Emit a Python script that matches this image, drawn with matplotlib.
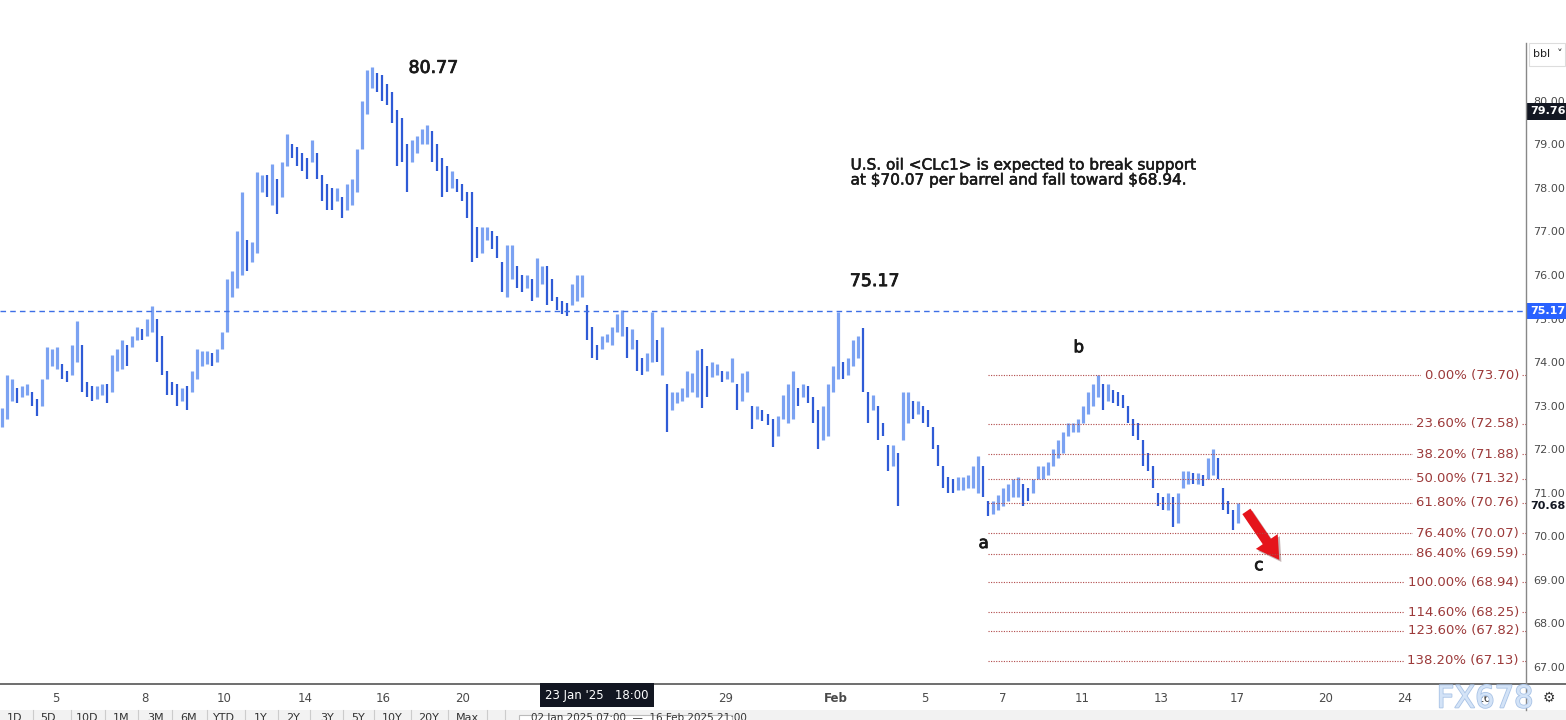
import matplotlib
matplotlib.use("Agg")
import matplotlib.pyplot as plt
import matplotlib.patheffects as pe
from matplotlib.patches import FancyArrowPatch, Rectangle
from matplotlib.lines import Line2D
import numpy as np

# ---------------- data ----------------
bar_low = [
    72.50, 72.70, 73.10, 73.05, 73.20, 73.25, 73.00, 72.75, 73.00, 73.60,
    73.90, 73.85, 73.60, 73.55, 73.70, 74.00, 73.30, 73.20, 73.10, 73.15,
    73.25, 73.05, 73.30, 73.80, 73.85, 73.90, 74.35, 74.50, 74.50, 74.60,
    74.70, 74.00, 73.70, 73.25, 73.25, 73.00, 73.10, 72.90, 73.30, 73.60,
    73.90, 73.95, 73.90, 74.00, 74.30, 74.70, 75.50, 75.70, 76.00, 76.10,
    76.30, 76.50, 77.90, 77.80, 77.60, 77.40, 77.80, 78.50, 78.70, 78.50,
    78.40, 78.20, 78.60, 78.20, 77.70, 77.50, 77.50, 77.70, 77.30, 77.50,
    77.60, 77.90, 78.90, 79.70, 80.30, 80.20, 80.00, 79.90, 79.50, 78.50,
    78.60, 77.90, 78.60, 78.80, 79.00, 79.00, 78.60, 78.40, 77.80, 77.90,
    78.00, 77.90, 77.70, 77.30, 76.30, 76.40, 76.50, 76.80, 76.60, 76.40,
    75.60, 75.50, 75.90, 75.70, 75.60, 75.70, 75.40, 75.50, 75.80, 75.30,
    75.40, 75.20, 75.10, 75.05, 75.30, 75.40, 75.50, 74.50, 74.10, 74.05,
    74.30, 74.45, 74.40, 74.70, 74.60, 74.10, 74.30, 73.80, 73.70, 73.80,
    74.00, 74.00, 73.70, 72.40, 72.90, 73.05, 73.10, 73.20, 73.30, 73.20,
    72.95, 73.20, 73.65, 73.70, 73.55, 73.60, 73.55, 72.90, 73.10, 73.30,
    72.45, 72.70, 72.65, 72.55, 72.05, 72.30, 72.70, 72.60, 72.70, 73.00,
    73.20, 73.05, 72.60, 72.00, 72.20, 72.30, 73.30, 73.60, 73.60, 73.70,
    73.90, 74.10, 73.30, 72.60, 72.90, 72.20, 72.30, 71.50, 71.60, 70.70,
    72.20, 72.60, 72.70, 72.80, 72.60, 72.50, 72.00, 71.60, 71.10, 71.00,
    71.00, 71.05, 71.05, 71.10, 71.10, 71.00, 70.90, 70.45, 70.50, 70.60,
    70.70, 70.80, 70.90, 70.90, 70.70, 70.80, 71.00, 71.30, 71.30, 71.40,
    71.60, 71.80, 71.90, 72.30, 72.40, 72.40, 72.60, 72.80, 73.00, 73.20,
    72.90, 73.10, 73.05, 73.00, 72.95, 72.60, 72.30, 72.20, 71.60, 71.50,
    71.10, 70.70, 70.60, 70.60, 70.20, 70.30, 71.10, 71.20, 71.20, 71.20,
    71.15, 71.30, 71.40, 71.30, 70.60, 70.50, 70.14, 70.30,
]
bar_high = [
    72.95, 73.70, 73.60, 73.40, 73.45, 73.50, 73.30, 73.15, 73.60, 74.35,
    74.30, 74.35, 73.95, 73.80, 74.40, 74.95, 74.40, 73.55, 73.45, 73.45,
    73.50, 73.50, 74.15, 74.30, 74.50, 74.40, 74.60, 74.80, 74.75, 75.00,
    75.28, 75.00, 74.60, 73.80, 73.55, 73.50, 73.40, 73.45, 73.80, 74.30,
    74.25, 74.25, 74.20, 74.30, 74.70, 75.90, 76.10, 77.00, 77.90, 76.80,
    76.75, 78.37, 78.30, 78.30, 78.55, 78.20, 78.60, 79.25, 79.00, 78.95,
    78.80, 78.70, 79.10, 78.80, 78.30, 78.10, 78.00, 78.00, 77.80, 78.10,
    78.20, 78.90, 80.00, 80.70, 80.77, 80.65, 80.60, 80.40, 80.20, 79.80,
    79.60, 79.00, 79.10, 79.20, 79.35, 79.45, 79.30, 79.00, 78.70, 78.50,
    78.40, 78.20, 78.10, 77.90, 77.90, 77.10, 77.10, 77.10, 77.00, 76.90,
    76.30, 76.70, 76.70, 76.20, 76.00, 76.00, 75.90, 76.40, 76.20, 76.20,
    75.90, 75.50, 75.40, 75.35, 75.80, 76.00, 76.00, 75.30, 74.80, 74.40,
    74.60, 74.65, 74.80, 75.10, 75.20, 74.80, 74.75, 74.50, 74.10, 74.20,
    75.15, 74.50, 74.80, 73.50, 73.30, 73.30, 73.40, 73.80, 73.75, 74.27,
    74.30, 73.90, 74.00, 73.95, 73.80, 73.80, 74.10, 73.50, 73.75, 73.80,
    73.00, 73.00, 72.90, 72.80, 72.70, 72.75, 73.25, 73.50, 73.80, 73.40,
    73.50, 73.45, 73.20, 72.90, 73.00, 73.50, 73.90, 75.15, 74.00, 74.10,
    74.50, 74.60, 74.78, 73.30, 73.25, 73.00, 72.60, 72.10, 72.10, 71.90,
    73.30, 73.30, 73.10, 73.10, 73.00, 72.90, 72.50, 72.10, 71.60, 71.35,
    71.30, 71.35, 71.35, 71.40, 71.60, 71.85, 71.60, 70.80, 70.80, 70.95,
    71.10, 71.20, 71.30, 71.35, 71.20, 71.10, 71.30, 71.60, 71.60, 71.70,
    72.00, 72.20, 72.40, 72.60, 72.60, 72.70, 73.00, 73.30, 73.50, 73.70,
    73.50, 73.50, 73.35, 73.30, 73.25, 73.00, 72.70, 72.60, 72.20, 71.90,
    71.60, 71.00, 70.90, 71.00, 70.90, 71.00, 71.50, 71.50, 71.45, 71.45,
    71.40, 71.80, 72.00, 71.80, 71.10, 70.80, 70.60, 70.76,
]
last_price = 70.68
line_level = 75.17
last_high_label = 79.76

fib_ratios = ["0.00%", "23.60%", "38.20%", "50.00%", "61.80%", "76.40%",
              "86.40%", "100.00%", "114.60%", "123.60%", "138.20%"]
fib_prices = [73.70, 72.58, 71.88, 71.32, 70.76, 70.07, 69.59, 68.94,
              68.25, 67.82, 67.13]

price_ticks = [67, 68, 69, 70, 71, 72, 73, 74, 75, 76, 77, 78, 79, 80]
date_labels = ["5", "8", "10", "14", "16", "20", "27", "29", "Feb", "5",
               "7", "11", "13", "17", "20", "24", "26"]
date_pos = [10.8, 28.6, 44.4, 60.6, 76.2, 92.0, 128.2, 144.6, 166.6, 184.4,
            200.0, 215.8, 231.6, 246.8, 264.6, 280.4, 296.2]

# ---------------- figure ----------------
W, H = 1566, 720
fig = plt.figure(figsize=(W / 100, H / 100), dpi=100)
fig.patch.set_facecolor("white")
ax = fig.add_axes([0, 36 / H, 1526 / W, 684 / H])
ax.set_facecolor("white")

lows = np.array(bar_low)
highs = np.array(bar_high)
n = len(lows)
x = np.arange(n)
mid = (lows + highs) / 2
up = np.r_[True, mid[1:] >= mid[:-1]]
col_up, col_dn = "#7ba2f2", "#2f5bd6"
ax.vlines(x[up], lows[up], highs[up], color=col_up, lw=2.3)
ax.vlines(x[~up], lows[~up], highs[~up], color=col_dn, lw=1.6)

ax.set_xlim(-0.4, 304.6)
ax.set_ylim(66.60, 82.32)

# horizontal dashed level
ax.axhline(line_level, color="#3d6fe6", lw=1.0, ls=(0, (4, 3)))

# fibonacci levels
fib_x0 = 197
for r, p in zip(fib_ratios, fib_prices):
    ax.hlines(p, fib_x0, 304.6, color="#b04848", lw=0.8, ls=(0, (1, 1.3)))
    ax.text(303.2, p, f"{r} ({p:.2f})", ha="right", va="center",
            fontsize=9.5, color="#9c3a3a",
            bbox=dict(boxstyle="square,pad=0.25", fc="white", ec="none"))

# annotations
heavy = [pe.withStroke(linewidth=0.6, foreground="#1a1a1a")]
ax.text(86.2, 80.76, "80.77", ha="center", va="center", fontsize=12.5, color="#1a1a1a", path_effects=heavy)
ax.text(174.4, 75.86, "75.17", ha="center", va="center", fontsize=12.5, color="#1a1a1a", path_effects=heavy)
ax.text(215.2, 74.34, "b", ha="center", va="center", fontsize=12, color="#1a1a1a", path_effects=heavy)
ax.text(196.2, 69.84, "a", ha="center", va="center", fontsize=12, color="#1a1a1a", path_effects=heavy)
ax.text(251.2, 69.33, "c", ha="center", va="center", fontsize=12, color="#1a1a1a", path_effects=heavy)
ax.text(169.6, 78.70,
        "U.S. oil <CLc1> is expected to break support\nat \\$70.07 per barrel and fall toward \\$68.94.",
        ha="left", va="top", fontsize=11, color="#1a1a1a", linespacing=1.0,
        path_effects=[pe.withStroke(linewidth=0.4, foreground="#1a1a1a")])

arrow = FancyArrowPatch((248.4, 70.62), (255.6, 69.40),
                        arrowstyle="simple,head_width=19,head_length=16,tail_width=7",
                        color="#e5141b", mutation_scale=1, lw=0,
                        path_effects=[pe.SimplePatchShadow(offset=(1.5, -1.5), alpha=0.3), pe.Normal()])
ax.add_patch(arrow)

# axes styling
for s in ax.spines.values():
    s.set_visible(False)
ax.yaxis.tick_right()
ax.set_yticks(price_ticks)
ax.set_yticklabels([f"{v:.2f}" for v in price_ticks])
ax.tick_params(axis="y", length=0, pad=5, labelsize=8, labelcolor="#4a4a4a")
ax.set_xticks(date_pos)
ax.set_xticklabels(date_labels)
ax.tick_params(axis="x", length=0, pad=6, labelsize=8.5, labelcolor="#4a4a4a")
for t in ax.get_xticklabels():
    if t.get_text() == "Feb":
        t.set_fontweight("bold")

# price boxes on the right scale
def price_box(price, text, fc, tc):
    ax.annotate(text, xy=(1.0, price), xycoords=("axes fraction", "data"),
                xytext=(3.2, 0), textcoords="offset points", ha="left", va="center",
                fontsize=8, color=tc, fontweight="bold", annotation_clip=False,
                bbox=dict(boxstyle="square,pad=0.3", fc=fc, ec="none"))

price_box(last_high_label, f"{last_high_label:.2f}", "#131722", "white")
price_box(line_level, f"{line_level:.2f}", "#2962ff", "white")
price_box(last_price, f"{last_price:.2f}", "white", "#131722")

# frame lines
fig.add_artist(Line2D([0, 1], [36 / H, 36 / H], color="#555555", lw=1.2, transform=fig.transFigure))
fig.add_artist(Line2D([1526 / W, 1526 / W], [10 / H, (H - 43) / H], color="#888888", lw=1.0, transform=fig.transFigure))

# bbl box
fig.patches.append(Rectangle((1529 / W, (H - 66) / H), 36 / W, 23 / H, transform=fig.transFigure,
                             fc="white", ec="#dddddd", lw=0.8))
fig.text(1533 / W, (H - 54) / H, "bbl  ˅", fontsize=8, color="#222222", va="center", ha="left")

# crosshair date label
fig.text(597 / W, (H - 695) / H, "23 Jan '25   18:00", ha="center", va="center", fontsize=8.5,
         color="white", bbox=dict(boxstyle="square,pad=0.45", fc="#131722", ec="none"))

# gear icon
fig.text(1549 / W, (H - 698) / H, "⚙", ha="center", va="center", fontsize=10, color="#333333")

# watermark
fig.text(1485 / W, (H - 699) / H, "FX678", ha="center", va="center", fontsize=22,
         color="#d3e3f7", path_effects=[pe.withStroke(linewidth=1.2, foreground="#a9c3e6")])

# bottom toolbar (cut by the image edge)
fig.patches.append(Rectangle((0, 0), 1, 10 / H, transform=fig.transFigure, fc="#f2f2f2", ec="none"))
btns = ["1D", "5D", "10D", "1M", "3M", "6M", "YTD", "1Y", "2Y", "3Y", "5Y", "10Y", "20Y", "Max"]
btn_x = [15, 48, 87, 121, 155, 189, 224, 261, 293, 327, 358, 392, 429, 467]
for b, bx in zip(btns, btn_x):
    fig.text(bx / W, (H - 713) / H, b, ha="center", va="top", fontsize=8, color="#333333")
for sx in [33, 71, 105, 138, 172, 207, 245, 278, 310, 343, 374, 411, 448, 487, 505]:
    fig.add_artist(Line2D([sx / W, sx / W], [0, 10 / H], color="#cccccc", lw=0.8, transform=fig.transFigure))
fig.patches.append(Rectangle((519 / W, -0.01), 213 / W, 12 / H, transform=fig.transFigure,
                             fc="white", ec="#bbbbbb", lw=0.8))
fig.text(531 / W, (H - 713) / H, "02 Jan 2025 07:00  —  16 Feb 2025 21:00", ha="left", va="top",
         fontsize=7.5, color="#333333")

fig.savefig("out.png", dpi=100)
